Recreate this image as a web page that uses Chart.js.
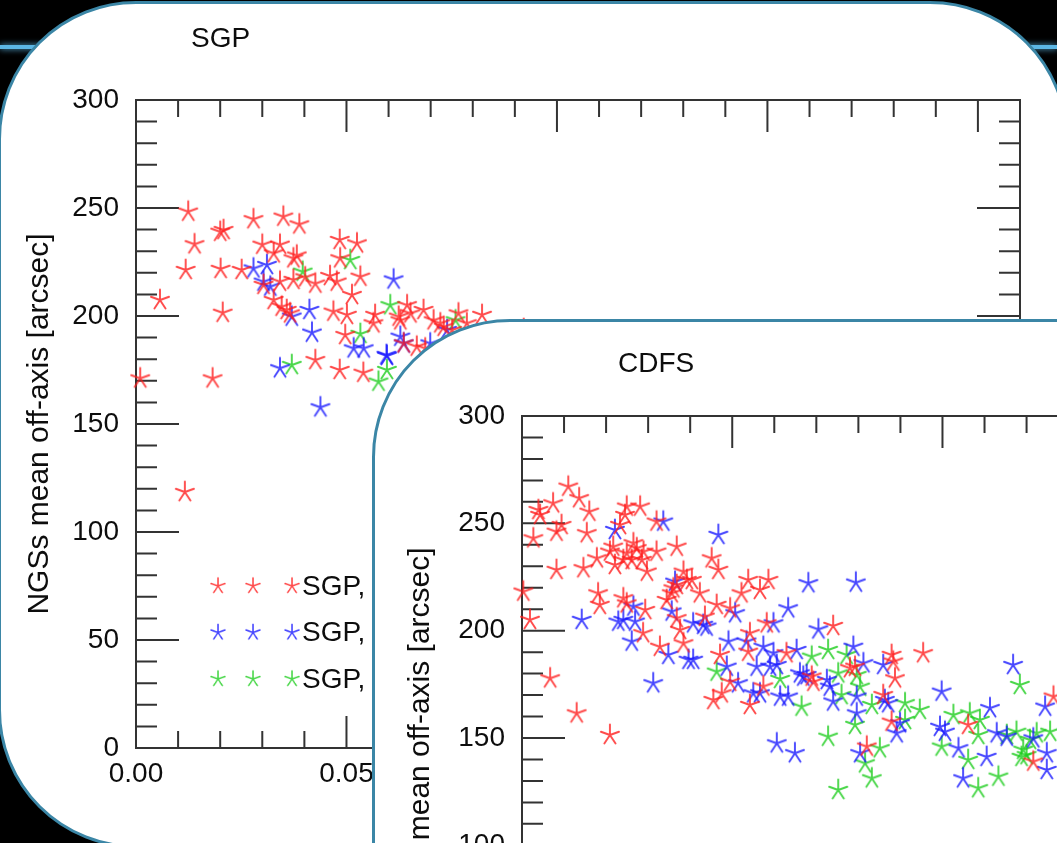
<!DOCTYPE html>
<html>
<head>
<meta charset="utf-8">
<script src="https://cdn.jsdelivr.net/npm/chart.js@4.4.1/dist/chart.umd.min.js"></script>
<style>
    html, body { margin: 0; padding: 0; background: #000; width: 1057px; height: 843px; overflow: hidden; position: relative; }
    .glow { position: absolute; left: 0; top: 45px; width: 1057px; height: 4px; background: #5cb6e4; box-shadow: 0 0 6px #5cb6e4; }
    .panel { position: absolute; background: #fff; border: 3px solid #3b86a6; border-radius: 138px; overflow: hidden; }
    #sgpPanel { left: -2px; top: 1px; width: 1064px; height: 841px; }
    #cdfsPanel { left: 372px; top: 319px; width: 1000px; height: 700px; }
    canvas { position: absolute; left: 0; top: 0; }
</style>
</head>
<body>
<div class="glow"></div>
<div class="panel" id="sgpPanel"><canvas id="sgpChart" width="1060" height="844"></canvas></div>
<div class="panel" id="cdfsPanel"><canvas id="cdfsChart" width="1100" height="800"></canvas></div>
<script>
// axis definition
var xTickValues = [0, 0.05, 0.10, 0.15, 0.20];
var yTickValues = [0, 50, 100, 150, 200, 250, 300];
var X_MIN = 0, X_MAX = 0.21, X_MINOR = 0.01, X_MAJOR = 0.05;
var Y_MIN = 0, Y_MAX = 300, Y_MINOR = 10, Y_MAJOR = 50;
var yTitle = 'NGSs mean off-axis [arcsec]';

// SGP field, [x, y]
var sgpLabels = ['SGP,', 'SGP,', 'SGP,'];
var sgpRed = [
    [0.0124, 248.3], [0.0208, 239.8], [0.0200, 239.0], [0.0279, 244.8], [0.0350, 246.0], [0.0388, 242.4],
    [0.0139, 233.2], [0.0300, 233.0], [0.0342, 233.0], [0.0327, 229.0], [0.0382, 228.0], [0.0374, 226.7],
    [0.0484, 235.2], [0.0525, 233.6], [0.0485, 226.7], [0.0118, 221.3], [0.0201, 221.8], [0.0251, 221.3],
    [0.0402, 217.9], [0.0426, 215.0], [0.0342, 215.9], [0.0374, 216.7], [0.0461, 218.5], [0.0477, 215.9],
    [0.0533, 218.2], [0.0513, 209.7], [0.0057, 207.4], [0.0206, 201.5], [0.0303, 214.4], [0.0327, 207.4],
    [0.0346, 204.3], [0.0358, 202.8], [0.0366, 201.2], [0.0469, 202.0], [0.0501, 200.5], [0.0568, 200.5],
    [0.0564, 196.6], [0.0497, 191.2], [0.0644, 205.0], [0.0652, 201.2], [0.0628, 198.0], [0.0683, 202.8],
    [0.0707, 198.0], [0.0723, 196.6], [0.0766, 201.2], [0.0822, 200.5], [0.0636, 187.3], [0.0667, 185.8],
    [0.0687, 185.0], [0.0426, 179.6], [0.0484, 175.0], [0.0540, 173.7], [0.0010, 171.1], [0.0182, 171.1],
    [0.0116, 118.5], [0.0731, 195.0], [0.0786, 196.6], [0.0751, 193.5], [0.0921, 194.0], [0.0624, 199.7]
];
var sgpBlue = [
    [0.0279, 222.0], [0.0311, 223.6], [0.0303, 215.9], [0.0319, 213.6], [0.0370, 199.7], [0.0412, 202.8],
    [0.0418, 192.3], [0.0342, 175.8], [0.0438, 157.7], [0.0612, 216.9], [0.0517, 185.0], [0.0541, 185.0],
    [0.0595, 182.0], [0.0628, 190.4], [0.0636, 187.3], [0.0699, 187.3], [0.0596, 181.5], [0.0739, 193.5]
];
var sgpGreen = [
    [0.0396, 220.5], [0.0509, 225.9], [0.0370, 177.3], [0.0604, 205.0], [0.0533, 191.7], [0.0596, 175.0],
    [0.0576, 169.6], [0.0759, 198.0]
];

// CDFS field, [x, y]
var cdfsLabels = ['CDFS,', 'CDFS,', 'CDFS,'];
var cdfsRed = [
    [0.0110, 267.1], [0.0136, 261.7], [0.0074, 259.3], [0.0039, 256.2], [0.0043, 253.9], [0.0160, 255.4],
    [0.0094, 249.2], [0.0082, 246.1], [0.0154, 245.4], [0.0027, 243.0], [0.0082, 228.3], [0.0146, 229.1],
    [0.0178, 233.7], [0.0003, 218.2], [0.0019, 205.0], [0.0067, 177.8], [0.0130, 161.5], [0.0209, 151.4],
    [0.0181, 217.4], [0.0185, 212.0], [0.0249, 257.8], [0.0245, 253.9], [0.0281, 257.8], [0.0233, 249.2],
    [0.0217, 239.1], [0.0209, 236.8], [0.0221, 230.6], [0.0265, 240.7], [0.0273, 238.4], [0.0289, 236.8],
    [0.0285, 232.9], [0.0261, 232.9], [0.0249, 236.0], [0.0241, 232.9], [0.0297, 227.5], [0.0320, 236.8],
    [0.0320, 250.8], [0.0368, 239.1], [0.0451, 233.7], [0.0467, 228.3], [0.0241, 215.1], [0.0249, 212.7],
    [0.0293, 209.6], [0.0288, 198.8], [0.0328, 192.5], [0.0384, 194.1], [0.0376, 200.3], [0.0368, 205.8],
    [0.0344, 214.3], [0.0356, 217.4], [0.0360, 219.7], [0.0368, 221.3], [0.0384, 227.5], [0.0392, 223.6],
    [0.0404, 223.6], [0.0423, 217.4], [0.0463, 212.0], [0.0435, 206.5], [0.0538, 223.6], [0.0522, 217.4],
    [0.0586, 223.6], [0.0566, 219.0], [0.0495, 210.4], [0.0542, 198.8], [0.0538, 190.2], [0.0471, 188.7],
    [0.0455, 167.7], [0.0475, 170.8], [0.0495, 176.2], [0.0542, 165.4], [0.0574, 174.0], [0.0582, 203.4],
    [0.0740, 202.2], [0.0629, 189.5], [0.0879, 188.7], [0.0883, 185.6], [0.0954, 189.5], [0.0780, 182.5],
    [0.0792, 183.2], [0.0887, 177.8], [0.0693, 176.2], [0.0689, 178.6], [0.0859, 170.0], [0.0879, 157.6],
    [0.1061, 156.1], [0.0820, 146.0], [0.1216, 139.0], [0.1264, 169.3]
];
var cdfsBlue = [
    [0.0221, 246.9], [0.0336, 250.8], [0.0467, 244.6], [0.0364, 222.8], [0.0142, 205.0], [0.0229, 204.2],
    [0.0241, 205.0], [0.0265, 211.2], [0.0269, 204.2], [0.0261, 194.9], [0.0356, 208.9], [0.0407, 203.4],
    [0.0431, 202.7], [0.0439, 201.9], [0.0348, 188.7], [0.0396, 186.4], [0.0407, 186.4], [0.0312, 175.5],
    [0.0507, 208.1], [0.0491, 194.9], [0.0534, 194.9], [0.0487, 183.2], [0.0514, 175.5], [0.0558, 183.2],
    [0.0550, 170.8], [0.0566, 170.8], [0.0598, 203.4], [0.0606, 147.5], [0.0681, 222.1], [0.0794, 222.4],
    [0.0633, 210.4], [0.0705, 200.6], [0.0574, 192.5], [0.0598, 189.5], [0.0653, 191.0], [0.0590, 183.2],
    [0.0606, 184.0], [0.0661, 180.1], [0.0669, 178.6], [0.0677, 179.3], [0.0725, 177.0], [0.0732, 173.9],
    [0.0788, 192.5], [0.0812, 184.8], [0.0859, 184.0], [0.0614, 169.3], [0.0633, 169.3], [0.0740, 167.0],
    [0.0796, 169.3], [0.0796, 161.5], [0.0863, 167.7], [0.0871, 166.2], [0.0899, 156.9], [0.0891, 152.2],
    [0.0649, 142.9], [0.0804, 142.9], [0.0998, 171.6], [0.0994, 155.2], [0.1006, 152.9], [0.1038, 145.2],
    [0.1049, 131.2], [0.1105, 141.2], [0.1113, 163.9], [0.1129, 152.2], [0.1153, 150.6], [0.1168, 184.0],
    [0.1244, 164.6], [0.1216, 149.8], [0.1248, 142.9], [0.1248, 135.1]
];
var cdfsGreen = [
    [0.0463, 180.9], [0.0614, 177.5], [0.0665, 164.6], [0.0689, 187.9], [0.0728, 191.0], [0.0772, 188.7],
    [0.0752, 180.1], [0.0760, 170.0], [0.0796, 179.3], [0.0804, 173.9], [0.0832, 165.4], [0.0792, 156.1],
    [0.0728, 150.6], [0.0851, 145.2], [0.0816, 138.2], [0.0832, 131.2], [0.0752, 125.8], [0.0911, 166.2],
    [0.0946, 163.1], [0.0911, 158.4], [0.0998, 146.0], [0.1026, 160.7], [0.1065, 161.5], [0.1089, 158.4],
    [0.1085, 151.4], [0.1061, 139.8], [0.1085, 126.6], [0.1133, 132.0], [0.1153, 151.4], [0.1176, 152.9],
    [0.1192, 144.5], [0.1208, 149.1], [0.1224, 152.2], [0.1256, 152.9], [0.1184, 174.7], [0.1188, 141.2],
    [0.1200, 142.0]
];

(function () {
    'use strict';

    var FONT = "'Liberation Sans', Arial, sans-serif",
        INK = '#0d0d0d',
        FRAME = '#333',
        X_AXIS_HEIGHT = 40,
        colors = ['rgba(255, 30, 30, 0.8)', 'rgba(25, 25, 255, 0.8)', 'rgba(30, 205, 30, 0.8)'],

        // IDL psym=2 style five-armed asterisk
        starImage = function (color) {
            var c = document.createElement('canvas'),
                ctx, k, a;

            c.width = 26;
            c.height = 26;
            ctx = c.getContext('2d');
            ctx.strokeStyle = color;
            ctx.lineWidth = 1.9;
            ctx.lineCap = 'round';
            ctx.beginPath();
            for (k = 0; k < 5; k++) {
                a = -Math.PI / 2 + k * 2 * Math.PI / 5;
                ctx.moveTo(13, 13);
                ctx.lineTo(13 + 9.5 * Math.cos(a), 13 + 10.5 * Math.sin(a));
            }
            ctx.stroke();
            return c;
        },

        stars = colors.map(starImage),

        toPoints = function (pairs) {
            return pairs.map(function (p) { return { x: p[0], y: p[1] }; });
        },

        eachTick = function (min, max, minor, major, fn) {
            var i, v, r;
            for (i = 0; ; i++) {
                v = min + i * minor;
                if (v > max + 1e-9) { break; }
                r = v / major;
                fn(v, Math.abs(r - Math.round(r)) < 1e-6);
            }
        },

        idlFrame = {
            id: 'idlFrame',
            beforeDatasetsDraw: function (chart, args, opts) {
                var ctx = chart.ctx,
                    area = chart.chartArea,
                    xs = chart.scales.x,
                    ys = chart.scales.y;

                ctx.save();
                ctx.strokeStyle = FRAME;
                ctx.lineWidth = 2;
                ctx.strokeRect(area.left, area.top, area.right - area.left, area.bottom - area.top);

                ctx.beginPath();
                eachTick(X_MIN, X_MAX, X_MINOR, X_MAJOR, function (v, major) {
                    var px = xs.getPixelForValue(v),
                        len = major ? 32 : 17;
                    ctx.moveTo(px, area.top);
                    ctx.lineTo(px, area.top + len);
                    ctx.moveTo(px, area.bottom);
                    ctx.lineTo(px, area.bottom - len);
                });
                eachTick(Y_MIN, Y_MAX, Y_MINOR, Y_MAJOR, function (v, major) {
                    var py = ys.getPixelForValue(v),
                        len = major ? 43 : 21;
                    ctx.moveTo(area.left, py);
                    ctx.lineTo(area.left + len, py);
                    ctx.moveTo(area.right, py);
                    ctx.lineTo(area.right - len, py);
                });
                ctx.stroke();

                ctx.fillStyle = INK;
                ctx.font = '28px ' + FONT;
                ctx.textBaseline = 'middle';
                ctx.textAlign = 'left';
                ctx.fillText(opts.title, opts.titleX, opts.titleY);

                if (opts.legend) {
                    chart.data.datasets.forEach(function (ds, i) {
                        var y = area.top + opts.legend.y + i * opts.legend.gap,
                            x0 = area.left + opts.legend.x,
                            img = ds.pointStyle;

                        [0, 35, 74].forEach(function (dx) {
                            ctx.drawImage(img, x0 + dx - 10, y - 10, 20, 20);
                        });
                        ctx.fillText(ds.label, x0 + 84, y + 1);
                    });
                }
                ctx.restore();
            }
        },

        buildChart = function (canvas, cfg) {
            var series = [cfg.red, cfg.blue, cfg.green];

            return new Chart(canvas, {
                type: 'scatter',
                data: {
                    datasets: series.map(function (pairs, i) {
                        return {
                            label: cfg.labels[i],
                            data: toPoints(pairs),
                            pointStyle: stars[i],
                            clip: false
                        };
                    })
                },
                options: {
                    responsive: false,
                    animation: false,
                    events: [],
                    layout: {
                        padding: {
                            left: 0,
                            top: cfg.area.top,
                            right: canvas.width - cfg.area.right,
                            bottom: canvas.height - cfg.area.bottom - X_AXIS_HEIGHT
                        }
                    },
                    plugins: {
                        legend: { display: false },
                        tooltip: { enabled: false },
                        title: { display: false },
                        idlFrame: {
                            title: cfg.title,
                            titleX: cfg.titleX,
                            titleY: cfg.titleY,
                            legend: cfg.legend
                        }
                    },
                    scales: {
                        x: {
                            type: 'linear',
                            position: 'bottom',
                            min: X_MIN,
                            max: X_MAX,
                            grid: { display: false, drawTicks: false },
                            border: { display: false },
                            afterBuildTicks: function (scale) {
                                scale.ticks = xTickValues.map(function (v) { return { value: v }; });
                            },
                            afterFit: function (scale) { scale.height = X_AXIS_HEIGHT; },
                            ticks: {
                                color: INK,
                                font: { family: FONT, size: 28 },
                                padding: 9,
                                maxRotation: 0,
                                autoSkip: false,
                                callback: function (v) { return Number(v).toFixed(2); }
                            }
                        },
                        y: {
                            type: 'linear',
                            min: Y_MIN,
                            max: Y_MAX,
                            grid: { display: false, drawTicks: false },
                            border: { display: false },
                            afterBuildTicks: function (scale) {
                                scale.ticks = yTickValues.map(function (v) { return { value: v }; });
                            },
                            afterFit: function (scale) { scale.width = cfg.area.left; },
                            ticks: {
                                color: INK,
                                font: { family: FONT, size: 28 },
                                padding: 17,
                                autoSkip: false,
                                callback: function (v) { return String(v); }
                            },
                            title: {
                                display: true,
                                text: yTitle,
                                color: INK,
                                font: { family: FONT, size: 30 },
                                padding: { top: cfg.yTitlePad, bottom: 0 }
                            }
                        }
                    }
                },
                plugins: [idlFrame]
            });
        };

    buildChart(document.getElementById('sgpChart'), {
        labels: sgpLabels,
        red: sgpRed,
        blue: sgpBlue,
        green: sgpGreen,
        area: { left: 135, top: 96, right: 1019, bottom: 744 },
        yTitlePad: 21,
        title: 'SGP',
        titleX: 190,
        titleY: 35,
        legend: { x: 82, y: 486, gap: 46.5 }
    });

    buildChart(document.getElementById('cdfsChart'), {
        labels: cdfsLabels,
        red: cdfsRed,
        blue: cdfsBlue,
        green: cdfsGreen,
        area: { left: 147, top: 94, right: 1030, bottom: 738 },
        yTitlePad: 28,
        title: 'CDFS',
        titleX: 243,
        titleY: 42,
        legend: null
    });
}());
</script>
</body>
</html>
